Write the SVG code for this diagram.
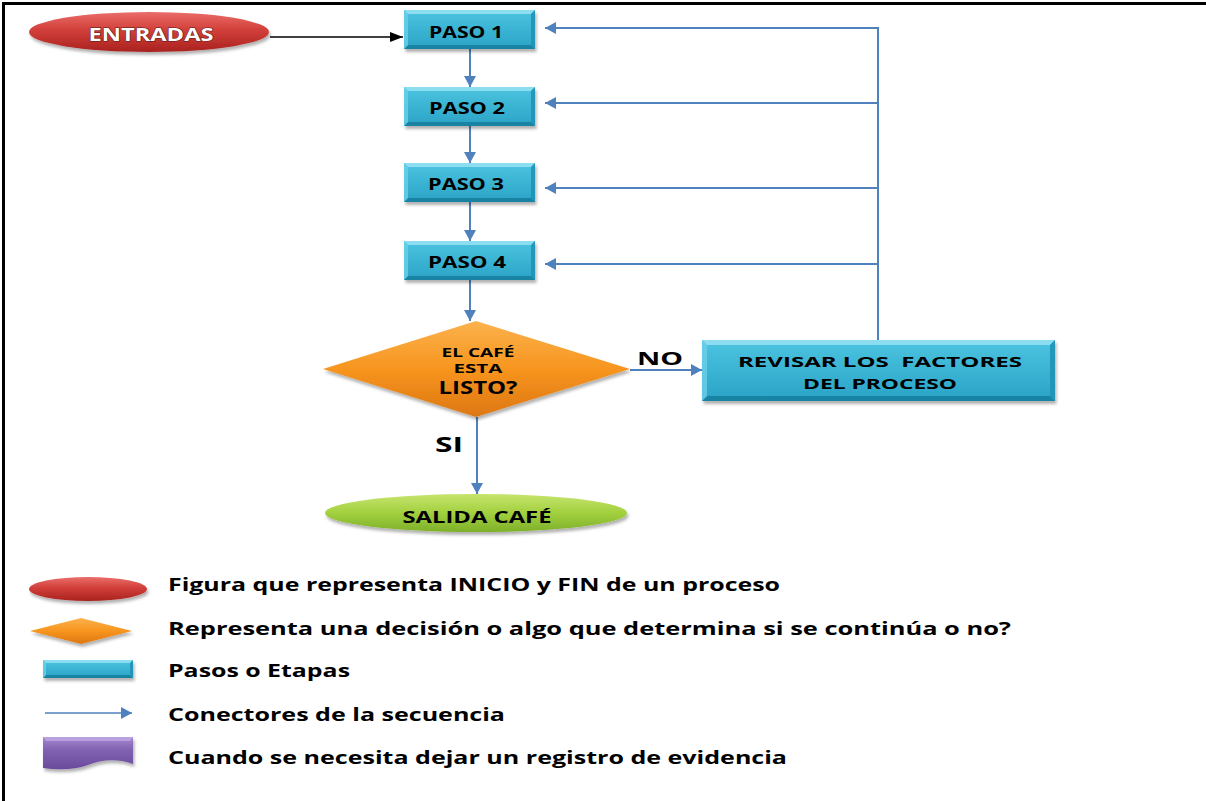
<svg xmlns="http://www.w3.org/2000/svg" width="1206" height="801" viewBox="0 0 1206 801">
  <defs>
    <linearGradient id="gRed" x1="0" y1="0" x2="0" y2="1">
      <stop offset="0" stop-color="#ea6d69"/>
      <stop offset="0.45" stop-color="#d23f3a"/>
      <stop offset="1" stop-color="#a9221f"/>
    </linearGradient>
    <linearGradient id="gCyan" x1="0" y1="0" x2="0" y2="1">
      <stop offset="0" stop-color="#4cc4e0"/>
      <stop offset="1" stop-color="#2aa3c6"/>
    </linearGradient>
    <linearGradient id="gOrange" x1="0" y1="0" x2="0" y2="1">
      <stop offset="0" stop-color="#fbb24c"/>
      <stop offset="0.5" stop-color="#f7951f"/>
      <stop offset="1" stop-color="#dd7712"/>
    </linearGradient>
    <linearGradient id="gGreen" x1="0" y1="0" x2="0" y2="1">
      <stop offset="0" stop-color="#c6e46e"/>
      <stop offset="0.5" stop-color="#a2d03e"/>
      <stop offset="1" stop-color="#7eb02a"/>
    </linearGradient>
    <linearGradient id="gPurple" x1="0" y1="0" x2="0" y2="1">
      <stop offset="0" stop-color="#a688cf"/>
      <stop offset="0.4" stop-color="#8161b2"/>
      <stop offset="1" stop-color="#6a4a9a"/>
    </linearGradient>
    <filter id="shadow" x="-10%" y="-20%" width="125%" height="160%">
      <feDropShadow dx="1.5" dy="3" stdDeviation="1.8" flood-color="#000" flood-opacity="0.3"/>
    </filter>
    <marker id="ahBlue" markerUnits="userSpaceOnUse" markerWidth="11" markerHeight="12" viewBox="0 0 11 12" refX="11" refY="6" orient="auto">
      <path d="M0,0 L11,6 L0,12 z" fill="#4f81bd"/>
    </marker>
    <marker id="ahBlack" markerUnits="userSpaceOnUse" markerWidth="13" markerHeight="10" viewBox="0 0 13 10" refX="13" refY="5" orient="auto">
      <path d="M0,0 L13,5 L0,10 z" fill="#000"/>
    </marker>
  </defs>
  <style>
    .frame { stroke: #000; stroke-width: 3; fill: none; }
    .conn { stroke: #4f81bd; stroke-width: 2; fill: none; }
    .arr { marker-end: url(#ahBlue); }
    .step { fill: url(#gCyan); filter: url(#shadow); }
    .bt { fill: #98e2f3; opacity: 0.85; }
    .bb { fill: #16809f; opacity: 0.9; }
    .bl { fill: #6dd0e9; opacity: 0.8; }
    .br { fill: #1f93b6; opacity: 0.9; }
    .lbl { font-family: "Open Sans", "Liberation Sans", sans-serif; font-weight: bold; fill: #000; }
    .mid { text-anchor: middle; }
    .leg { font-family: "Open Sans", "Liberation Sans", sans-serif; font-weight: bold; font-size: 18px; fill: #000; }
  </style>

  <rect width="1206" height="801" fill="#fff"/>
  <path class="frame" d="M3.5,801 V3.5 H1206"/>

  <!-- connectors -->
  <g id="connectors">
    <line x1="270" y1="37" x2="403" y2="37" stroke="#000" stroke-width="1.4" marker-end="url(#ahBlack)"/>
    <line class="conn arr" x1="470" y1="49" x2="470" y2="87"/>
    <line class="conn arr" x1="470" y1="126" x2="470" y2="163"/>
    <line class="conn arr" x1="470" y1="202" x2="470" y2="241"/>
    <line class="conn arr" x1="470" y1="280" x2="470" y2="321"/>
    <line class="conn arr" x1="630" y1="370" x2="702" y2="370"/>
    <line class="conn arr" x1="477" y1="417" x2="477" y2="494"/>
    <line class="conn" x1="878" y1="340" x2="878" y2="27"/>
    <line class="conn arr" x1="879" y1="28" x2="545" y2="28"/>
    <line class="conn arr" x1="879" y1="103" x2="545" y2="103"/>
    <line class="conn arr" x1="879" y1="188" x2="545" y2="188"/>
    <line class="conn arr" x1="879" y1="264" x2="545" y2="264"/>
  </g>

  <!-- start -->
  <g id="entradas">
    <ellipse cx="149" cy="32" rx="120" ry="20" fill="url(#gRed)" filter="url(#shadow)"/>
    <text class="lbl mid" x="151" y="41" font-size="17" stroke="#5a1818" stroke-width="0.9" paint-order="stroke" textLength="125" lengthAdjust="spacingAndGlyphs" style="fill:#fff">ENTRADAS</text>
  </g>

  <g id="paso1">
    <rect class="step" x="404" y="10" width="131" height="39"/>
    <polygon class="bt" points="404,10 535,10 531,14 408,14"/>
    <polygon class="bb" points="404,49 535,49 531,45 408,45"/>
    <polygon class="bl" points="404,10 408,14 408,45 404,49"/>
    <polygon class="br" points="535,10 531,14 531,45 535,49"/>
    <text class="lbl mid" x="466" y="38" font-size="16" textLength="74" lengthAdjust="spacingAndGlyphs">PASO 1</text>
  </g>

  <g id="paso2">
    <rect class="step" x="404" y="87" width="131" height="39"/>
    <polygon class="bt" points="404,87 535,87 531,91 408,91"/>
    <polygon class="bb" points="404,126 535,126 531,122 408,122"/>
    <polygon class="bl" points="404,87 408,91 408,122 404,126"/>
    <polygon class="br" points="535,87 531,91 531,122 535,126"/>
    <text class="lbl mid" x="467" y="114" font-size="16" textLength="76" lengthAdjust="spacingAndGlyphs">PASO 2</text>
  </g>

  <g id="paso3">
    <rect class="step" x="404" y="163" width="131" height="39"/>
    <polygon class="bt" points="404,163 535,163 531,167 408,167"/>
    <polygon class="bb" points="404,202 535,202 531,198 408,198"/>
    <polygon class="bl" points="404,163 408,167 408,198 404,202"/>
    <polygon class="br" points="535,163 531,167 531,198 535,202"/>
    <text class="lbl mid" x="466" y="190" font-size="16" textLength="76" lengthAdjust="spacingAndGlyphs">PASO 3</text>
  </g>

  <g id="paso4">
    <rect class="step" x="404" y="241" width="131" height="39"/>
    <polygon class="bt" points="404,241 535,241 531,245 408,245"/>
    <polygon class="bb" points="404,280 535,280 531,276 408,276"/>
    <polygon class="bl" points="404,241 408,245 408,276 404,280"/>
    <polygon class="br" points="535,241 531,245 531,276 535,280"/>
    <text class="lbl mid" x="467" y="268" font-size="16" textLength="78" lengthAdjust="spacingAndGlyphs">PASO 4</text>
  </g>

  <g id="decision">
    <polygon points="323,369 476,321 630,369 476,417" fill="url(#gOrange)" filter="url(#shadow)"/>
    <text class="lbl mid" x="478" y="357" font-size="12" textLength="73" lengthAdjust="spacingAndGlyphs">EL CAFÉ</text>
    <text class="lbl mid" x="478" y="373" font-size="12" textLength="49" lengthAdjust="spacingAndGlyphs">ESTA</text>
    <text class="lbl mid" x="478" y="394" font-size="17" textLength="79" lengthAdjust="spacingAndGlyphs">LISTO?</text>
  </g>

  <text class="lbl" x="637" y="365" font-size="18" textLength="46" lengthAdjust="spacingAndGlyphs">NO</text>
  <text class="lbl" x="435" y="452" font-size="22" textLength="28" lengthAdjust="spacingAndGlyphs">SI</text>

  <g id="revisar">
    <rect class="step" x="702" y="340" width="353" height="61"/>
    <polygon class="bt" points="702,340 1055,340 1050,345 707,345"/>
    <polygon class="bb" points="702,401 1055,401 1050,396 707,396"/>
    <polygon class="bl" points="702,340 707,345 707,396 702,401"/>
    <polygon class="br" points="1055,340 1050,345 1050,396 1055,401"/>
    <text class="lbl mid" x="880" y="367" font-size="15" textLength="284" lengthAdjust="spacingAndGlyphs" xml:space="preserve">REVISAR LOS  FACTORES</text>
    <text class="lbl mid" x="880" y="389" font-size="15" textLength="154" lengthAdjust="spacingAndGlyphs">DEL PROCESO</text>
  </g>

  <g id="salida">
    <ellipse cx="476" cy="513" rx="151" ry="19" fill="url(#gGreen)" filter="url(#shadow)"/>
    <text class="lbl mid" x="477" y="523" font-size="16" textLength="149" lengthAdjust="spacingAndGlyphs">SALIDA CAFÉ</text>
  </g>

  <!-- legend -->
  <g id="legend">
    <ellipse cx="88" cy="589" rx="59" ry="12" fill="url(#gRed)" filter="url(#shadow)"/>
    <polygon points="30,631 81,618 132,631 81,644" fill="url(#gOrange)" filter="url(#shadow)"/>
    <g id="legend-step">
      <rect class="step" x="43" y="660" width="90" height="18"/>
      <polygon class="bt" points="43,660 133,660 130,663 46,663"/>
      <polygon class="bb" points="43,678 133,678 130,675 46,675"/>
      <polygon class="bl" points="43,660 46,663 46,675 43,678"/>
      <polygon class="br" points="133,660 130,663 130,675 133,678"/>
    </g>
    <line x1="45" y1="713" x2="132" y2="713" stroke="#4f81bd" stroke-width="1.5" marker-end="url(#ahBlue)"/>
    <g id="legend-document">
      <path d="M43,737 H133 V764 C116,758 101,760 88,765 C75,770 58,770 43,768 Z" fill="url(#gPurple)" filter="url(#shadow)"/>
      <polygon points="43,737 133,737 130,741 46,741" fill="#c2a8e6" opacity="0.8"/>
    </g>
    <text class="leg" x="168" y="591" textLength="612" lengthAdjust="spacingAndGlyphs">Figura que representa INICIO y FIN de un proceso</text>
    <text class="leg" x="168" y="635" textLength="843" lengthAdjust="spacingAndGlyphs">Representa una decisión o algo que determina si se continúa o no?</text>
    <text class="leg" x="168" y="677" textLength="182" lengthAdjust="spacingAndGlyphs">Pasos o Etapas</text>
    <text class="leg" x="168" y="721" textLength="337" lengthAdjust="spacingAndGlyphs">Conectores de la secuencia</text>
    <text class="leg" x="168" y="764" textLength="619" lengthAdjust="spacingAndGlyphs">Cuando se necesita dejar un registro de evidencia</text>
  </g>
</svg>
